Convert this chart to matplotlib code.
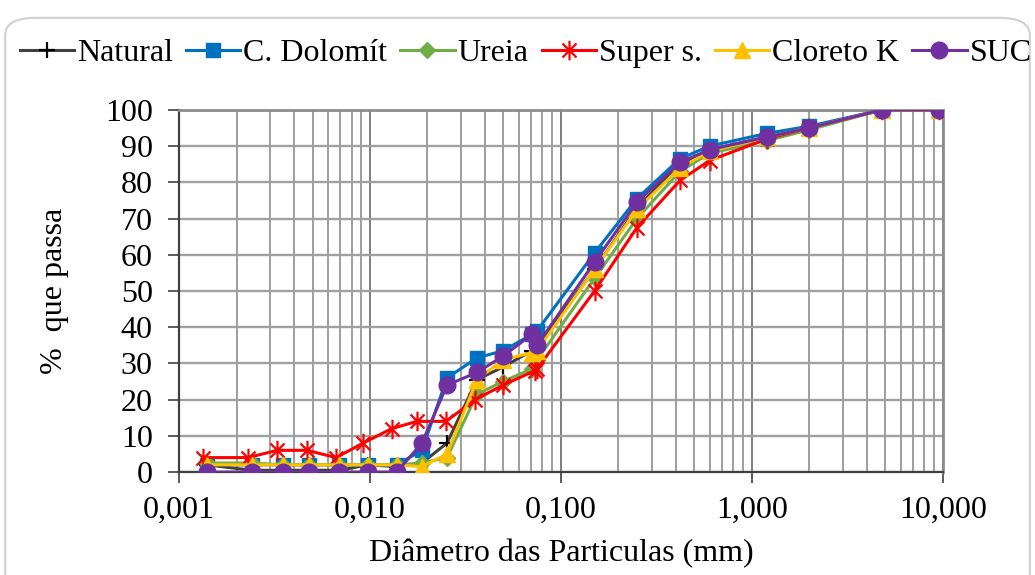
import numpy as np
import matplotlib
matplotlib.use('Agg')
import matplotlib.pyplot as plt
from matplotlib.path import Path
from matplotlib.patches import FancyBboxPatch
from matplotlib.ticker import FuncFormatter, FixedLocator, LogLocator

plt.rcParams['font.family'] = ['Liberation Serif', 'DejaVu Serif']

# Diâmetros (mm): sedimentação + peneiramento
diametros = [0.0014, 0.0024, 0.0035, 0.0048, 0.0069, 0.0098, 0.0138, 0.0187, 0.0253,
             0.0363, 0.0497, 0.0705, 0.075, 0.15, 0.25, 0.42, 0.6, 1.2, 2.0, 4.8, 9.5]
diametros_super = [0.00134, 0.0023, 0.00326, 0.00468, 0.00664, 0.0092, 0.0130, 0.0176, 0.0250,
                   0.0355, 0.0497, 0.0731, 0.075, 0.15, 0.25, 0.42, 0.6, 1.2, 2.0, 4.8, 9.5]

natural = [2, 0.5, 0.5, 0.5, 0.5, 2, 1.5, 2.5, 8, 25.5, 29, 33.5, 34.5, 56, 73, 85, 89, 92.5, 95, 100, 100]
dolomit = [2, 2, 2, 2, 2, 2, 2, 6, 26, 31.5, 33.5, 38, 39, 60.5, 75.5, 86.5, 90, 93.5, 95.5, 100, 100]
ureia = [2.5, 2.5, 2, 2, 2, 2, 2, 2.5, 4, 21.5, 25, 28.5, 31, 53.5, 70, 83, 88, 91.5, 94.5, 100, 100]
super_s = [4, 4, 6, 6, 4, 8, 12, 14, 14, 20, 24, 28, 28.5, 50, 67.5, 80.5, 86, 92, 95, 100, 100]
cloreto = [2, 2, 2, 2, 2, 2, 2, 1.5, 5, 25.5, 31, 33, 33.5, 56, 72.5, 84, 88.5, 92.5, 95, 100, 100]
suc = [0, 0, 0, 0, 0, 0, 0, 8, 24, 27.5, 32, 38, 35, 58, 74.5, 85.5, 89, 92.5, 95, 100, 100]

# marcador asterisco (vertical + X)
asterisco = Path([(0, -1), (0, 1), (-0.72, -0.72), (0.72, 0.72), (-0.72, 0.72), (0.72, -0.72)],
                 [Path.MOVETO, Path.LINETO, Path.MOVETO, Path.LINETO, Path.MOVETO, Path.LINETO])

FS = 23

fig = plt.figure(figsize=(10.35, 5.75), dpi=100)
ax = fig.add_axes([0.173, 0.179, 0.738, 0.630])

lw = 2.2
ax.plot(diametros, natural, color='#404040', lw=lw, marker='+', ms=12, mew=1.6,
        mec='black', label='Natural', zorder=3)
ax.plot(diametros, dolomit, color='#0070C0', lw=lw, marker='s', ms=10,
        label='C. Dolomít', zorder=3)
ax.plot(diametros, ureia, color='#70AD47', lw=lw, marker='D', ms=8,
        label='Ureia', zorder=3)
ax.plot(diametros_super, super_s, color='#FF0000', lw=lw, marker=asterisco, ms=14, mew=1.6,
        mec='#FF0000', label='Super s.', zorder=3)
ax.plot(diametros, cloreto, color='#FFC000', lw=lw, marker='^', ms=11,
        label='Cloreto K', zorder=3)
ax.plot(diametros, suc, color='#7030A0', lw=lw, marker='o', ms=12,
        label='SUC', zorder=3)

ax.set_xscale('log')
ax.set_xlim(0.001, 10)
ax.set_ylim(0, 100)
ax.set_yticks(np.arange(0, 101, 10))
ax.xaxis.set_major_locator(FixedLocator([0.001, 0.01, 0.1, 1, 10]))
ax.xaxis.set_minor_locator(LogLocator(base=10, subs=np.arange(2, 10)))
ax.xaxis.set_major_formatter(FuncFormatter(lambda v, p: f"{v:.3f}".replace('.', ',')))
ax.xaxis.set_minor_formatter(FuncFormatter(lambda v, p: ''))

ax.grid(True, which='major', axis='x', color='#7f7f7f', lw=1.4, zorder=0)
ax.grid(True, which='minor', axis='x', color='#9e9e9e', lw=1.4, zorder=0)
ax.grid(True, which='major', axis='y', color='#a0a0a0', lw=1.7, zorder=0)
ax.set_axisbelow(True)

ax.tick_params(axis='both', which='major', direction='out', length=8, width=1.2,
               labelsize=FS, color='#404040')
ax.tick_params(axis='y', pad=11)
ax.tick_params(axis='x', pad=9)
ax.tick_params(axis='x', which='minor', length=0)

for s in ['left', 'bottom']:
    ax.spines[s].set_color('#404040')
    ax.spines[s].set_linewidth(1.6)
for s in ['top', 'right']:
    ax.spines[s].set_color('#8c8c8c')
    ax.spines[s].set_linewidth(2)

ax.set_xlabel('Diâmetro das Particulas (mm)', fontsize=FS, labelpad=10)
ax.set_ylabel('%  que passa', fontsize=FS, labelpad=26)

fig.legend(loc='center', bbox_to_anchor=(0.508, 0.907), ncol=6, frameon=False,
           fontsize=FS, handlelength=1.7, handletextpad=0.1, columnspacing=0.4,
           borderaxespad=0)

# borda arredondada da área do gráfico
fig.patches.append(FancyBboxPatch((0.005, -0.1), 0.99, 1.069, transform=fig.transFigure,
                                  boxstyle='round,pad=0,rounding_size=0.03',
                                  fc='none', ec='#d0d0d0', lw=1.5))

fig.savefig('out.png', dpi=100)
